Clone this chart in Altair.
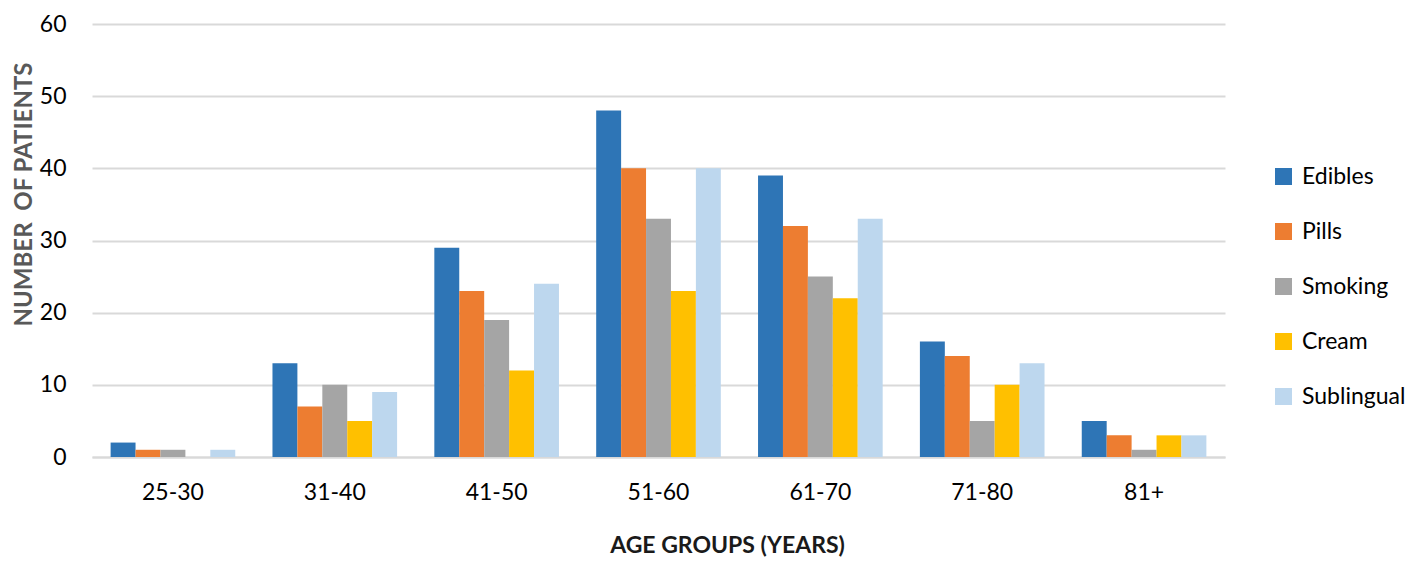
import altair as alt
import pandas as pd

groups = ["25-30", "31-40", "41-50", "51-60", "61-70", "71-80", "81+"]
series = ["Edibles", "Pills", "Smoking", "Cream", "Sublingual"]
edibles = [2, 13, 29, 48, 39, 16, 5]
pills = [1, 7, 23, 40, 32, 14, 3]
smoking = [1, 10, 19, 33, 25, 5, 1]
cream = [0, 5, 12, 23, 22, 10, 3]
sublingual = [1, 9, 24, 40, 33, 13, 3]
colors = ["#2E75B6", "#ED7D31", "#A5A5A5", "#FFC000", "#BDD7EE"]

rows = []
for s, vals in zip(series, [edibles, pills, smoking, cream, sublingual]):
    for g, v in zip(groups, vals):
        rows.append({"group": g, "series": s, "value": v})
df = pd.DataFrame(rows)

font = "Lato"
PLOT_W, PLOT_H = 1133, 433

chart = alt.Chart(df).mark_bar().encode(
    x=alt.X("group:N", sort=groups,
            scale=alt.Scale(paddingInner=0.23, paddingOuter=0.115),
            axis=alt.Axis(title="AGE GROUPS (YEARS)", labelAngle=0, ticks=False, tickSize=0,
                          domainColor="#D9D9D9", domainWidth=2,
                          labelFontSize=23, labelColor="#000000", labelPadding=24,
                          titleFontSize=23, titleFontWeight="bold", titleColor="#1a1a1a",
                          titleX=635, titleY=88, titleAlign="center", titleBaseline="middle",
                          labelFont=font, titleFont=font)),
    xOffset=alt.XOffset("series:N", sort=series, scale=alt.Scale(paddingInner=0, paddingOuter=0)),
    y=alt.Y("value:Q", scale=alt.Scale(domain=[0, 60]),
            axis=alt.Axis(title="NUMBER\u00a0 OF PATIENTS", values=[0, 10, 20, 30, 40, 50, 60],
                          ticks=False, tickSize=0, domain=False, gridColor="#D9D9D9", gridWidth=2,
                          labelFontSize=23, labelColor="#000000", labelPadding=26,
                          titleFontSize=24, titleFontWeight="bold", titleColor="#595959",
                          titleX=-68, titleY=170, titleAngle=-90, titleAlign="center",
                          titleBaseline="middle",
                          labelFont=font, titleFont=font)),
    color=alt.Color("series:N", sort=series,
                    scale=alt.Scale(domain=series, range=colors),
                    legend=alt.Legend(title=None, symbolType="square", symbolSize=289,
                                      symbolStrokeWidth=0, labelFontSize=23, labelFont=font,
                                      labelColor="#000000", rowPadding=31,
                                      orient="none", legendX=1180, legendY=141,
                                      labelOffset=7)),
).properties(
    width=PLOT_W, height=PLOT_H,
    autosize=alt.AutoSizeParams(type="none"),
    padding={"left": 84, "top": 16, "right": 185, "bottom": 101},
)

chart = chart.configure_view(strokeWidth=0, stroke=None)

chart.save("out.html", embed_options={"renderer": "svg", "actions": False})
